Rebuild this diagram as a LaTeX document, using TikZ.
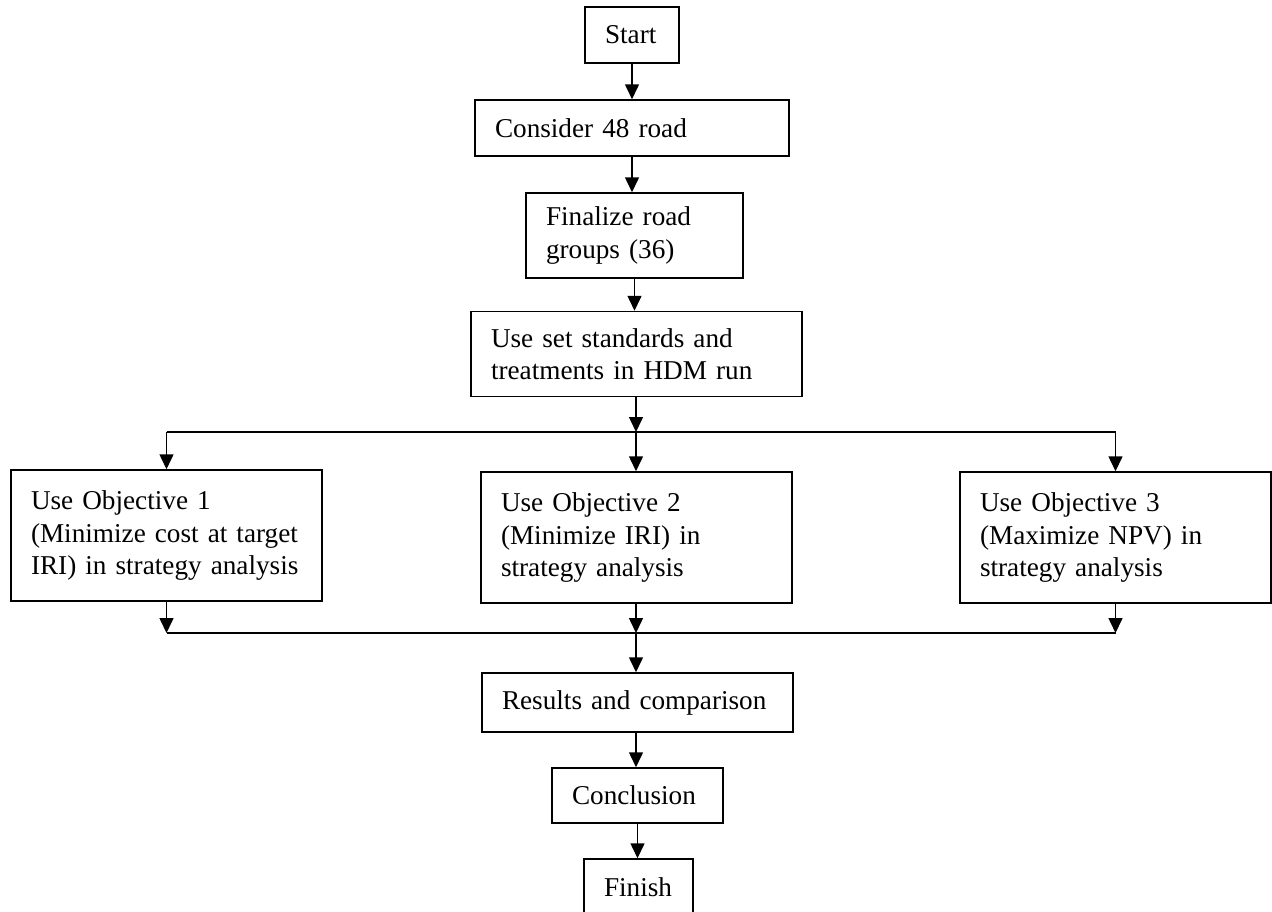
\documentclass[tikz,border=0pt]{standalone}
\usepackage{fontspec}
\setmainfont{Liberation Serif}
\usepackage{tikz}
\usetikzlibrary{arrows.meta}

\begin{document}
\begin{tikzpicture}[x=0.5pt,y=-0.5pt,
  line width=0.75pt,
  box/.style={draw, align=left, inner xsep=10pt, inner ysep=0pt,
    font=\fontsize{13.6}{16.3}\selectfont},
  flow/.style={-{Triangle[width=7pt,length=7.5pt]}}]
\useasboundingbox (0,0) rectangle (1272,911);
% main column
\node[box, text width=27pt, minimum height=28pt] (start) at (632,35) {Start};
\node[box, text width=137pt, minimum height=28pt] (consider) at (632,128) {Consider 48 road};
\node[box, text width=88.5pt, minimum height=42.5pt] (groups) at (634.5,235.5) {Finalize road\\groups (36)};
\node[box, text width=145.5pt, minimum height=42.5pt] (hdm) at (636.5,354) {Use set standards and\\treatments in HDM run};
% objectives
\node[box, text width=135.5pt, minimum height=65.5pt] (obj1) at (166.5,535.5) {Use Objective 1\\(Minimize cost at target\\IRI) in strategy analysis};
\node[box, text width=135.5pt, minimum height=65.5pt] (obj2) at (636.5,537.5) {Use Objective 2\\(Minimize IRI) in\\strategy analysis\\[3pt]};
\node[box, text width=135.5pt, minimum height=65.5pt] (obj3) at (1115.5,537.5) {Use Objective 3\\(Maximize NPV) in\\strategy analysis\\[3pt]};
% end column
\node[box, text width=135.5pt, minimum height=29.5pt] (results) at (637.5,702.5) {Results and comparison};
\node[box, text width=65.5pt, minimum height=27.5pt] (concl) at (637.5,795.5) {Conclusion};
\node[box, text width=34.5pt, minimum height=28pt] (finish) at (638.5,887) {Finish};
\coordinate (split) at (636,432);
\coordinate (merge) at (636,633);

\draw[flow] (start.south) -- (start.south |- consider.north);
\draw[flow] (start.south |- consider.south) -- (start.south |- groups.north);
\draw[flow] (groups.south) -- (groups.south |- hdm.north);
\draw[flow] (hdm.south -| split) -- (split);
\draw (obj1.north |- split) -- (obj3.north |- split);
\draw[flow] (split) -- (split |- obj2.north);
\draw[flow] (obj1.north |- split) -- (obj1.north);
\draw[flow] (obj3.north |- split) -- (obj3.north);
\draw[flow] (obj1.south) -- (obj1.south |- merge);
\draw[flow] (merge |- obj2.south) -- (merge);
\draw[flow] (obj3.south) -- (obj3.south |- merge);
\draw (obj1.south |- merge) -- (obj3.south |- merge);
\draw[flow] (merge) -- (merge |- results.north);
\draw[flow] (merge |- results.south) -- (merge |- concl.north);
\draw[flow] (concl.south) -- (concl.south |- finish.north);
\end{tikzpicture}
\end{document}
